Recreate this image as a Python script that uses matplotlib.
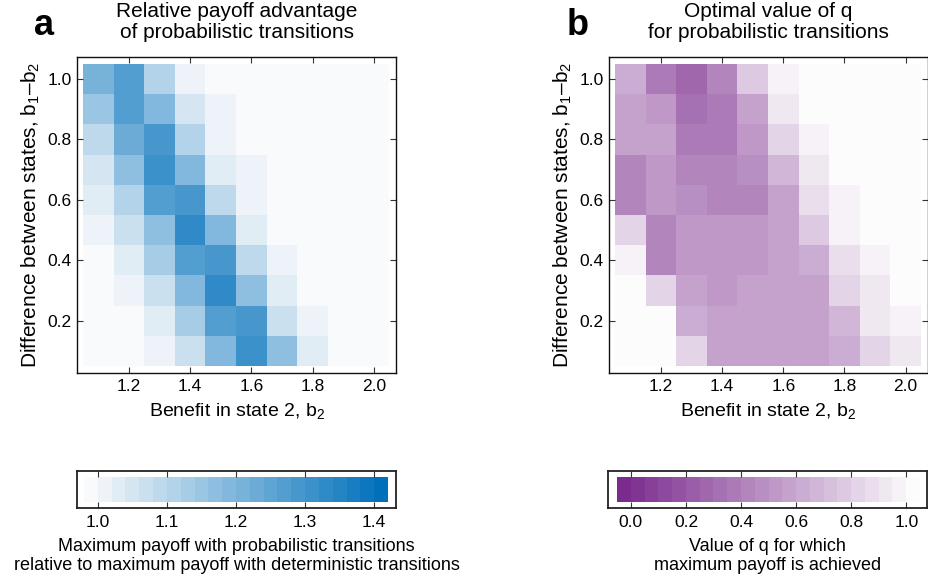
import numpy as np
import matplotlib
matplotlib.use("Agg")
import matplotlib.pyplot as plt
from matplotlib.colors import LinearSegmentedColormap, Normalize

plt.rcParams["font.family"] = ["Liberation Sans", "DejaVu Sans"]
plt.rcParams["mathtext.fontset"] = "custom"
plt.rcParams["mathtext.rm"] = "Liberation Sans"
plt.rcParams["mathtext.default"] = "regular"

# Grid: benefit in state 2 (columns) and b1-b2 (rows, top to bottom)
b2_values = [1.1, 1.2, 1.3, 1.4, 1.5, 1.6, 1.7, 1.8, 1.9, 2.0]
diff_values = [1.0, 0.9, 0.8, 0.7, 0.6, 0.5, 0.4, 0.3, 0.2, 0.1]

# Panel a: relative payoff advantage
payoff_ratio = [
    [1.21, 1.27, 1.11, 1.02, 1.00, 1.00, 1.00, 1.00, 1.00, 1.00],
    [1.15, 1.28, 1.20, 1.05, 1.01, 1.00, 1.00, 1.00, 1.00, 1.00],
    [1.10, 1.24, 1.30, 1.11, 1.02, 1.00, 1.00, 1.00, 1.00, 1.00],
    [1.06, 1.17, 1.31, 1.20, 1.04, 1.01, 1.00, 1.00, 1.00, 1.00],
    [1.03, 1.11, 1.27, 1.30, 1.10, 1.01, 1.00, 1.00, 1.00, 1.00],
    [1.01, 1.07, 1.18, 1.33, 1.19, 1.03, 1.00, 1.00, 1.00, 1.00],
    [1.00, 1.03, 1.13, 1.28, 1.30, 1.09, 1.01, 1.00, 1.00, 1.00],
    [1.00, 1.01, 1.07, 1.20, 1.33, 1.18, 1.03, 1.00, 1.00, 1.00],
    [1.00, 1.00, 1.03, 1.13, 1.27, 1.29, 1.08, 1.01, 1.00, 1.00],
    [1.00, 1.00, 1.01, 1.07, 1.19, 1.31, 1.18, 1.03, 1.00, 1.00],
]

# Panel b: optimal q
optimal_q = [
    [0.64, 0.39, 0.28, 0.44, 0.75, 0.96, 1.00, 1.00, 1.00, 1.00],
    [0.59, 0.54, 0.32, 0.39, 0.59, 0.91, 1.00, 1.00, 1.00, 1.00],
    [0.59, 0.59, 0.39, 0.39, 0.53, 0.82, 0.96, 1.00, 1.00, 1.00],
    [0.44, 0.53, 0.42, 0.42, 0.46, 0.69, 0.91, 1.00, 1.00, 1.00],
    [0.44, 0.53, 0.49, 0.44, 0.44, 0.59, 0.86, 0.96, 1.00, 1.00],
    [0.82, 0.40, 0.50, 0.50, 0.50, 0.55, 0.75, 0.96, 1.00, 1.00],
    [0.96, 0.40, 0.50, 0.50, 0.50, 0.55, 0.64, 0.86, 0.96, 1.00],
    [1.00, 0.82, 0.55, 0.50, 0.55, 0.55, 0.59, 0.82, 0.90, 1.00],
    [1.00, 1.00, 0.64, 0.55, 0.55, 0.55, 0.59, 0.66, 0.90, 0.97],
    [1.00, 1.00, 0.82, 0.59, 0.55, 0.59, 0.59, 0.64, 0.80, 0.91],
]

xticks = [1.2, 1.4, 1.6, 1.8, 2.0]
yticks = [0.2, 0.4, 0.6, 0.8, 1.0]
cbar_a_ticks = [1.0, 1.1, 1.2, 1.3, 1.4]
cbar_b_ticks = [0.0, 0.2, 0.4, 0.6, 0.8, 1.0]

blue_cmap = LinearSegmentedColormap.from_list("blue22", ["#f9fafb", "#0070bb"], N=22)
purple_cmap = LinearSegmentedColormap.from_list("purple22", ["#7b2b8d", "#fcfcfc"], N=22)
blue_norm = Normalize(0.98, 1.4205)
purple_norm = Normalize(-0.05, 1.049)

TICK_SIZE = 12.5


def edges(centers):
    c = np.asarray(centers, dtype=float)
    step = c[1] - c[0]
    return np.append(c - step / 2, c[-1] + step / 2)


def style_axes(ax):
    ax.tick_params(direction="in", top=True, right=True, length=4, width=0.8,
                   labelsize=TICK_SIZE, pad=4, color="#333333")
    for s in ax.spines.values():
        s.set_linewidth(1.0)
        s.set_color("#111111")


def heatmap(ax, values, cmap, norm):
    ax.pcolormesh(edges(b2_values), edges(diff_values), np.array(values),
                  cmap=cmap, norm=norm, shading="flat")
    ax.set_xlim(1.03, 2.073)
    ax.set_ylim(0.027, 1.073)
    ax.set_xticks(xticks)
    ax.set_yticks(yticks)
    ax.set_xticklabels([f"{t:.1f}" for t in xticks])
    ax.set_yticklabels([f"{t:.1f}" for t in yticks])
    style_axes(ax)
    ax.set_xlabel("Benefit in state 2, b$_2$", fontsize=14, labelpad=5)
    ax.set_ylabel("Difference between states, b$_1$–b$_2$", fontsize=15, labelpad=4)


def colorbar(cax, cmap, norm, ticks, xlim, label):
    e = np.linspace(norm.vmin, norm.vmax, cmap.N + 1)
    mids = (e[:-1] + e[1:]) / 2
    cax.pcolormesh(e, [0, 1], mids[np.newaxis, :], cmap=cmap, norm=norm)
    cax.set_xlim(*xlim)
    cax.set_ylim(-0.24, 1.24)
    cax.set_yticks([])
    cax.set_xticks(ticks)
    cax.set_xticklabels([f"{t:.1f}" for t in ticks])
    cax.tick_params(axis="x", direction="in", top=True, bottom=True, length=4,
                    width=0.8, labelsize=TICK_SIZE, pad=5, color="#333333")
    for s in cax.spines.values():
        s.set_linewidth(1.3)
        s.set_color("#222222")
    cax.set_xlabel(label, fontsize=13, labelpad=6, linespacing=1.18)


fig = plt.figure(figsize=(9.29, 5.83), dpi=100)

ax_a = fig.add_axes([0.0829, 0.3602, 0.3434, 0.5420])
ax_b = fig.add_axes([0.6555, 0.3602, 0.3434, 0.5420])
cax_a = fig.add_axes([0.0829, 0.1292, 0.3434, 0.0635])
cax_b = fig.add_axes([0.6545, 0.1292, 0.3434, 0.0635])

heatmap(ax_a, payoff_ratio, blue_cmap, blue_norm)
heatmap(ax_b, optimal_q, purple_cmap, purple_norm)

colorbar(cax_a, blue_cmap, blue_norm, cbar_a_ticks, (0.970, 1.432),
         "Maximum payoff with probabilistic transitions\n"
         "relative to maximum payoff with deterministic transitions")
colorbar(cax_b, purple_cmap, purple_norm, cbar_b_ticks, (-0.083, 1.075),
         "Value of q for which\nmaximum payoff is achieved")

fig.text(0.2546, 1 - 22 / 583, "Relative payoff advantage\nof probabilistic transitions",
         ha="center", va="center", fontsize=15, linespacing=1.12)
fig.text(0.8273, 1 - 22 / 583, "Optimal value of q\nfor probabilistic transitions",
         ha="center", va="center", fontsize=15, linespacing=1.12)

fig.text(0.0366, 1 - 35 / 583, "a", fontsize=26, fontweight="bold", va="baseline")
fig.text(0.6103, 1 - 35 / 583, "b", fontsize=26, fontweight="bold", va="baseline")

fig.savefig("out.png", dpi=100)
